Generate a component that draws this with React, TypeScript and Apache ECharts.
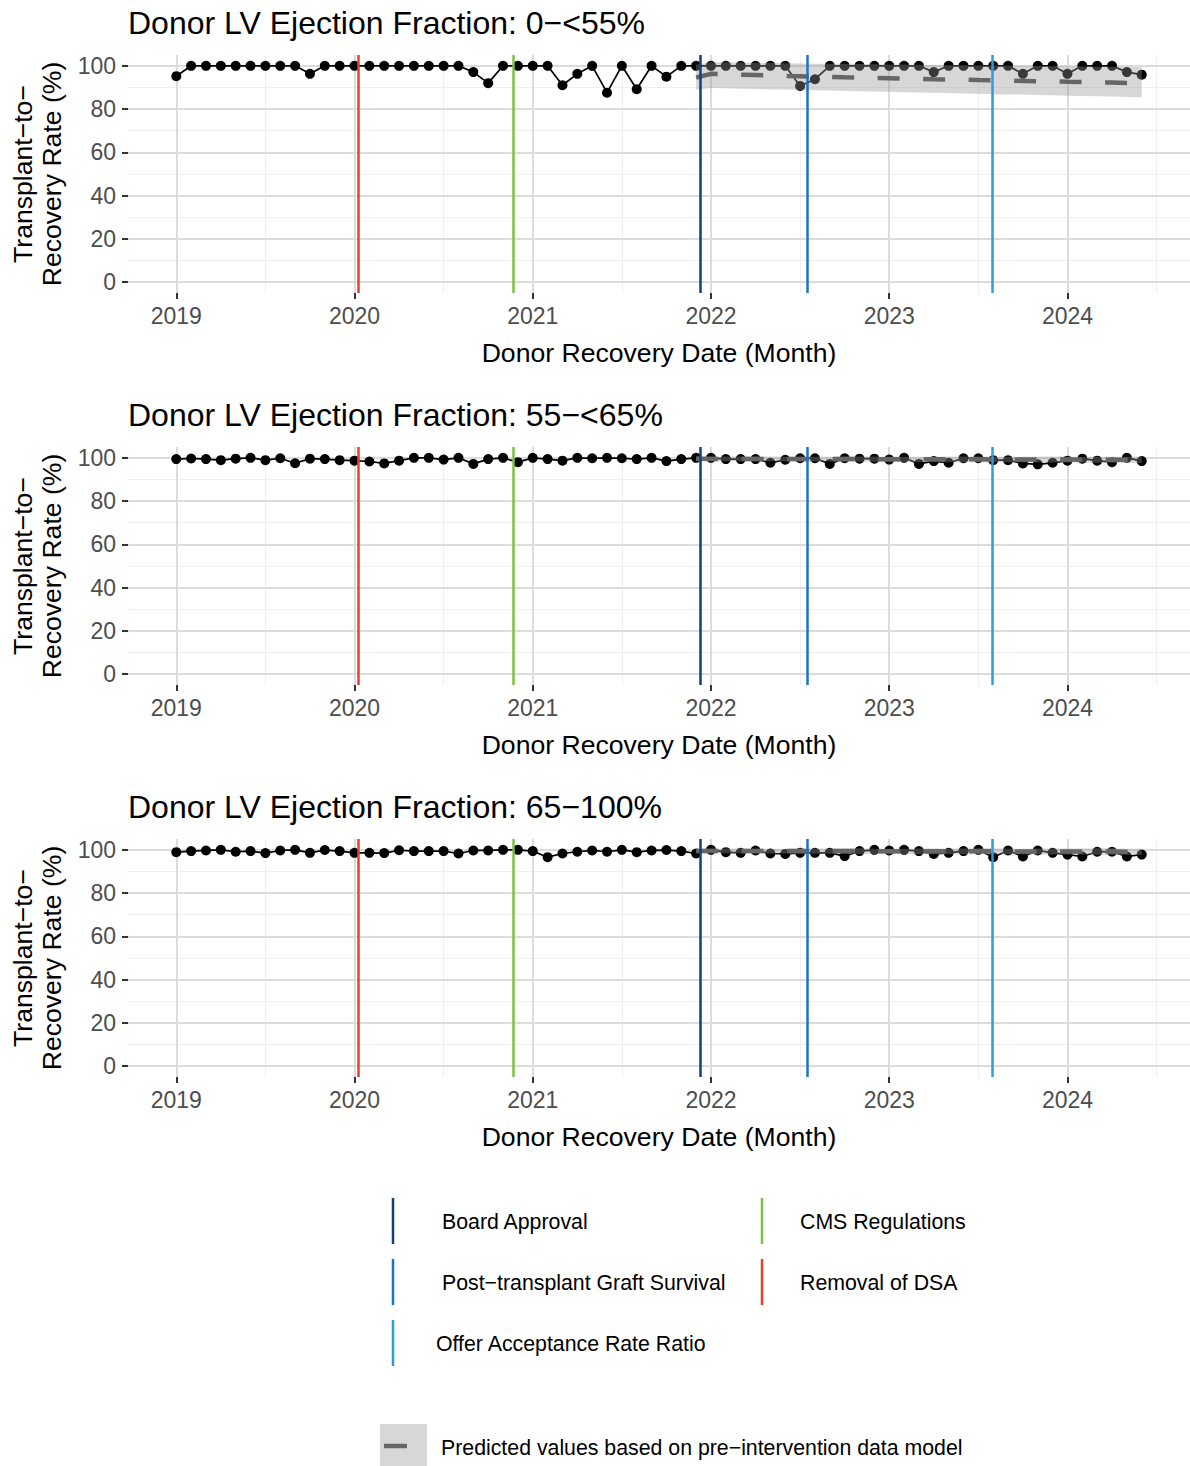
import React, { useEffect, useRef } from "react";
import * as echarts from "echarts";

// ---------- data ----------
const START_YEAR = 2019;
const N_MONTHS = 66; // Jan 2019 .. Jun 2024
const monthIndex: number[] = Array.from({ length: N_MONTHS }, (_, i) => i);
const PRED_START = 35; // Dec 2021
const predMonths: number[] = monthIndex.slice(PRED_START);

const panelTitles = [
  "Donor LV Ejection Fraction: 0−<55%",
  "Donor LV Ejection Fraction: 55−<65%",
  "Donor LV Ejection Fraction: 65−100%",
];

// observed transplant-to-recovery rate (%)
const ef0: number[] = [
  95.2, 100, 100, 100, 100, 100, 100, 100, 100, 96.3, 100, 100,
  100, 100, 100, 100, 100, 100, 100, 100, 97.1, 92.0, 100, 100,
  100, 100, 91.0, 96.3, 100, 87.6, 100, 89.2, 100, 95.0, 100, 100,
  100, 100, 100, 100, 100, 100, 90.7, 93.8, 100, 100, 100, 100,
  100, 100, 100, 97.1, 100, 100, 100, 100, 100, 96.3, 100, 100,
  96.3, 100, 100, 100, 97.1, 95.9,
];
const ef55: number[] = [
  99.4, 99.7, 99.4, 98.9, 99.6, 100, 98.9, 99.8, 97.5, 99.6, 99.4, 98.9,
  98.7, 98.3, 97.4, 98.7, 100, 100, 99.2, 100, 97.2, 99.4, 100, 98.0,
  100, 99.4, 98.7, 100, 99.8, 100, 99.8, 99.4, 100, 98.5, 99.4, 100,
  100, 99.4, 99.4, 99.4, 97.7, 99.1, 99.8, 99.8, 97.2, 99.8, 99.6, 99.6,
  99.2, 100, 97.2, 98.5, 97.7, 99.8, 99.8, 98.9, 98.9, 97.4, 97.0, 97.7,
  98.7, 99.6, 98.7, 98.0, 100, 98.5,
];
const ef65: number[] = [
  98.9, 99.4, 99.7, 100, 99.1, 99.4, 98.5, 99.7, 100, 98.6, 99.9, 99.4,
  98.6, 98.6, 98.5, 99.8, 99.4, 99.4, 99.4, 98.3, 99.7, 99.7, 100, 100,
  99.4, 96.6, 98.3, 99.1, 99.7, 99.1, 100, 98.9, 99.7, 99.9, 99.4, 98.3,
  100, 98.9, 98.6, 99.7, 98.3, 98.1, 98.6, 98.6, 98.6, 97.1, 99.4, 100,
  99.7, 100, 99.4, 98.1, 98.6, 99.4, 100, 96.6, 99.7, 96.9, 99.7, 98.6,
  97.8, 96.9, 99.1, 99.1, 96.9, 97.8,
];

// predicted values (Dec 2021 .. Jun 2024) with interval bounds
const ef0Pred: number[] = [
  94.6, 96.3, 96.1, 95.9, 95.7, 95.5, 95.3, 95.2, 95.0, 94.9, 94.7, 94.6,
  94.4, 94.3, 94.1, 94.0, 93.8, 93.7, 93.6, 93.4, 93.3, 93.1, 93.0, 92.9,
  92.8, 92.6, 92.5, 92.4, 92.3, 92.1, 92.0,
];
const ef0Lo: number[] = [
  88.9, 89.7, 89.6, 89.4, 89.3, 89.1, 89.0, 88.8, 88.7, 88.6, 88.4, 88.3,
  88.1, 88.0, 87.8, 87.7, 87.5, 87.4, 87.2, 87.1, 86.9, 86.8, 86.7, 86.5,
  86.4, 86.2, 86.1, 85.9, 85.8, 85.6, 85.5,
];
const ef0Hi: number[] = [
  100.6, 101.7, 101.6, 101.5, 101.4, 101.3, 101.2, 101.1, 101.0, 100.9, 100.9, 100.8,
  100.7, 100.6, 100.6, 100.5, 100.4, 100.3, 100.3, 100.2, 100.1, 100.1, 100.0, 99.9,
  99.8, 99.8, 99.7, 99.6, 99.6, 99.5, 99.4,
];
const ef55Pred: number[] = [
  99.6, 99.5, 99.5, 99.5, 99.5, 99.5, 99.4, 99.4, 99.4, 99.4, 99.4, 99.4,
  99.4, 99.3, 99.3, 99.3, 99.3, 99.3, 99.3, 99.3, 99.2, 99.2, 99.2, 99.2,
  99.2, 99.2, 99.1, 99.1, 99.1, 99.1, 99.1,
];
const ef55Lo: number[] = [
  98.5, 98.5, 98.4, 98.4, 98.4, 98.4, 98.3, 98.3, 98.3, 98.3, 98.2, 98.2,
  98.2, 98.1, 98.1, 98.1, 98.1, 98.0, 98.0, 98.0, 97.9, 97.9, 97.9, 97.9,
  97.8, 97.8, 97.8, 97.7, 97.7, 97.7, 97.6,
];
const ef55Hi: number[] = [
  100.7, 100.6, 100.6, 100.6, 100.6, 100.6, 100.5, 100.5, 100.5, 100.5, 100.6, 100.6,
  100.6, 100.5, 100.5, 100.5, 100.5, 100.6, 100.6, 100.6, 100.5, 100.5, 100.5, 100.5,
  100.6, 100.6, 100.4, 100.5, 100.5, 100.5, 100.6,
];
const ef65Pred: number[] = [
  99.5, 99.5, 99.5, 99.5, 99.4, 99.4, 99.4, 99.4, 99.4, 99.4, 99.4, 99.4,
  99.3, 99.3, 99.3, 99.3, 99.3, 99.3, 99.3, 99.3, 99.3, 99.2, 99.2, 99.2,
  99.2, 99.2, 99.2, 99.2, 99.2, 99.1, 99.1,
];
const ef65Lo: number[] = [
  98.4, 98.4, 98.4, 98.3, 98.3, 98.3, 98.3, 98.2, 98.2, 98.2, 98.2, 98.1,
  98.1, 98.1, 98.1, 98.0, 98.0, 98.0, 98.0, 97.9, 97.9, 97.9, 97.9, 97.8,
  97.8, 97.8, 97.8, 97.7, 97.7, 97.7, 97.6,
];
const ef65Hi: number[] = [
  100.6, 100.6, 100.6, 100.7, 100.5, 100.5, 100.5, 100.6, 100.6, 100.6, 100.6, 100.7,
  100.5, 100.5, 100.5, 100.6, 100.6, 100.6, 100.6, 100.7, 100.7, 100.5, 100.5, 100.6,
  100.6, 100.6, 100.6, 100.7, 100.7, 100.5, 100.6,
];

// interventions (fractional month index since Jan 2019)
const interventionNames = [
  "Removal of DSA",
  "CMS Regulations",
  "Board Approval",
  "Post−transplant Graft Survival",
  "Offer Acceptance Rate Ratio",
];
const interventionMonths: number[] = [12.27, 22.72, 35.27, 42.47, 54.92];

const xYearTicks: number[] = [0, 12, 24, 36, 48, 60];
const xMinorTicks: number[] = [6, 18, 30, 42, 54, 66];
const yTicks: number[] = [0, 20, 40, 60, 80, 100];
const yMinorTicks: number[] = [10, 30, 50, 70, 90];

const xAxisTitle = "Donor Recovery Date (Month)";
const yAxisTitleLines = ["Transplant−to−", "Recovery Rate (%)"];
const predLegendText = "Predicted values based on pre−intervention data model";

// ---------- styles / layout ----------
const FONT = '"Liberation Sans", Arial, Helvetica, sans-serif';
const interventionColors: Record<string, string> = {
  "Removal of DSA": "#E8402B",
  "CMS Regulations": "#7CC242",
  "Board Approval": "#173E78",
  "Post−transplant Graft Survival": "#1B74BF",
  "Offer Acceptance Rate Ratio": "#2B9ED8",
};
const PANEL_TOPS = [55, 447, 839];
const GRID_LEFT = 128;
const GRID_WIDTH = 1062;
const GRID_HEIGHT = 238;
const BAND_FILL = "rgba(150,150,150,0.38)";
const TICK_FONT = 23;

const panels = [
  { title: panelTitles[0], obs: ef0, pred: ef0Pred, lo: ef0Lo, hi: ef0Hi },
  { title: panelTitles[1], obs: ef55, pred: ef55Pred, lo: ef55Lo, hi: ef55Hi },
  { title: panelTitles[2], obs: ef65, pred: ef65Pred, lo: ef65Lo, hi: ef65Hi },
];

function buildOption() {
  const grid: any[] = [];
  const xAxis: any[] = [];
  const yAxis: any[] = [];
  const series: any[] = [];
  const graphic: any[] = [];

  panels.forEach((p, i) => {
    const top = PANEL_TOPS[i];
    grid.push({ left: GRID_LEFT, top, width: GRID_WIDTH, height: GRID_HEIGHT });
    xAxis.push({
      type: "value",
      gridIndex: i,
      position: "bottom",
      min: -3.25,
      max: 68.25,
      axisLine: { show: false, onZero: false },
      splitLine: { show: false },
      axisTick: {
        show: true,
        customValues: xYearTicks,
        length: 6,
        lineStyle: { color: "#333333", width: 2 },
      },
      axisLabel: {
        customValues: xYearTicks,
        formatter: (v: number) => String(START_YEAR + Math.round(v / 12)),
        color: "#4D4D4D",
        fontSize: TICK_FONT,
        fontFamily: FONT,
        margin: 11,
      },
    });
    yAxis.push({
      type: "value",
      gridIndex: i,
      position: "left",
      min: -5,
      max: 105,
      axisLine: { show: false, onZero: false },
      splitLine: { show: false },
      axisTick: {
        show: true,
        customValues: yTicks,
        length: 6,
        lineStyle: { color: "#333333", width: 2 },
      },
      axisLabel: {
        customValues: yTicks,
        color: "#4D4D4D",
        fontSize: TICK_FONT,
        fontFamily: FONT,
        margin: 12,
      },
    });

    const minorStyle = { color: "#EFEFEF", width: 1.1, type: "solid" };
    const majorStyle = { color: "#DCDCDC", width: 2, type: "solid" };
    // grid lines
    series.push({
      type: "line",
      xAxisIndex: i,
      yAxisIndex: i,
      data: [],
      silent: true,
      z: 0,
      markLine: {
        silent: true,
        z: 0,
        symbol: ["none", "none"],
        label: { show: false },
        emphasis: { disabled: true },
        lineStyle: { type: "solid" },
        data: [
          ...yMinorTicks.map((v) => ({ yAxis: v, lineStyle: minorStyle })),
          ...xMinorTicks.map((v) => ({ xAxis: v, lineStyle: minorStyle })),
          ...yTicks.map((v) => ({ yAxis: v, lineStyle: majorStyle })),
          ...xYearTicks.map((v) => ({ xAxis: v, lineStyle: majorStyle })),
        ],
      },
    });
    // observed
    series.push({
      type: "line",
      xAxisIndex: i,
      yAxisIndex: i,
      z: 2,
      data: monthIndex.map((m, k) => [m, p.obs[k]]),
      symbol: "circle",
      symbolSize: 10,
      showSymbol: true,
      itemStyle: { color: "#000000" },
      lineStyle: { color: "#000000", width: 1.7 },
      silent: true,
    });
    // prediction band
    const lo = p.lo;
    const hi = p.hi;
    series.push({
      type: "custom",
      xAxisIndex: i,
      yAxisIndex: i,
      z: 3,
      silent: true,
      data: predMonths.map((m, k) => [m, lo[k], hi[k]]),
      encode: { x: 0, y: [1, 2] },
      renderItem: (params: any, api: any) => {
        if (params.dataIndex !== 0) return null;
        const upper = predMonths.map((m, k) => api.coord([m, hi[k]]));
        const lower = predMonths.map((m, k) => api.coord([m, lo[k]])).reverse();
        return {
          type: "polygon",
          shape: { points: upper.concat(lower) },
          style: { fill: BAND_FILL },
        };
      },
    });
    // predicted dashed line
    series.push({
      type: "line",
      xAxisIndex: i,
      yAxisIndex: i,
      z: 4,
      silent: true,
      data: predMonths.map((m, k) => [m, p.pred[k]]),
      showSymbol: false,
      symbol: "none",
      lineStyle: { color: "#666666", width: 4.5, type: [22, 23.5], cap: "butt" },
    });
    // intervention lines
    series.push({
      type: "line",
      xAxisIndex: i,
      yAxisIndex: i,
      data: [],
      silent: true,
      z: 10,
      markLine: {
        silent: true,
        z: 10,
        symbol: ["none", "none"],
        label: { show: false },
        emphasis: { disabled: true },
        lineStyle: { type: "solid" },
        data: interventionNames.map((n, k) => ({
          xAxis: interventionMonths[k],
          lineStyle: { color: interventionColors[n], width: 2.5, type: "solid" },
        })),
      },
    });

    // titles
    graphic.push({
      type: "text",
      x: GRID_LEFT,
      y: top - 32,
      style: {
        text: p.title,
        font: `32px ${FONT}`,
        fill: "#000000",
        align: "left",
        verticalAlign: "middle",
      },
    });
    graphic.push({
      type: "text",
      x: GRID_LEFT + GRID_WIDTH / 2,
      y: top + GRID_HEIGHT + 60,
      style: {
        text: xAxisTitle,
        font: `26.6px ${FONT}`,
        fill: "#000000",
        align: "center",
        verticalAlign: "middle",
      },
    });
    yAxisTitleLines.forEach((line, li) => {
      graphic.push({
        type: "text",
        x: 23 + li * 29,
        y: top + GRID_HEIGHT / 2,
        rotation: Math.PI / 2,
        style: {
          text: line,
          font: `26.6px ${FONT}`,
          fill: "#000000",
          align: "center",
          verticalAlign: "middle",
        },
      });
    });
  });

  // intervention legend
  const legendLayout: Record<string, { x: number; tx: number; y: number }> = {
    "Board Approval": { x: 393, tx: 442, y: 1221 },
    "Post−transplant Graft Survival": { x: 393, tx: 442, y: 1282 },
    "Offer Acceptance Rate Ratio": { x: 393, tx: 436, y: 1343 },
    "CMS Regulations": { x: 762, tx: 800, y: 1221 },
    "Removal of DSA": { x: 762, tx: 800, y: 1282 },
  };
  interventionNames.forEach((n) => {
    const L = legendLayout[n];
    graphic.push({
      type: "line",
      shape: { x1: L.x, y1: L.y - 23, x2: L.x, y2: L.y + 23 },
      style: { stroke: interventionColors[n], lineWidth: 2.5 },
    });
    graphic.push({
      type: "text",
      x: L.tx,
      y: L.y + 1,
      style: {
        text: n,
        font: `21.3px ${FONT}`,
        fill: "#000000",
        align: "left",
        verticalAlign: "middle",
      },
    });
  });

  // prediction legend
  graphic.push({
    type: "rect",
    shape: { x: 380, y: 1424, width: 47, height: 42 },
    style: { fill: "#D7D7D7" },
  });
  graphic.push({
    type: "line",
    shape: { x1: 384, y1: 1446, x2: 407, y2: 1446 },
    style: { stroke: "#666666", lineWidth: 4.5 },
  });
  graphic.push({
    type: "text",
    x: 441,
    y: 1448,
    style: {
      text: predLegendText,
      font: `21.3px ${FONT}`,
      fill: "#000000",
      align: "left",
      verticalAlign: "middle",
    },
  });

  return {
    animation: false,
    backgroundColor: "#FFFFFF",
    textStyle: { fontFamily: FONT },
    grid,
    xAxis,
    yAxis,
    series,
    graphic,
  };
}

export default function App() {
  const ref = useRef<HTMLDivElement>(null);
  useEffect(() => {
    if (!ref.current) return;
    const chart = echarts.init(ref.current, null, { renderer: "svg" });
    chart.setOption(buildOption() as any);
    return () => {
      chart.dispose();
    };
  }, []);
  return (
    <div
      ref={ref}
      style={{ position: "absolute", left: 0, top: 0, width: 1190, height: 1466 }}
    />
  );
}
